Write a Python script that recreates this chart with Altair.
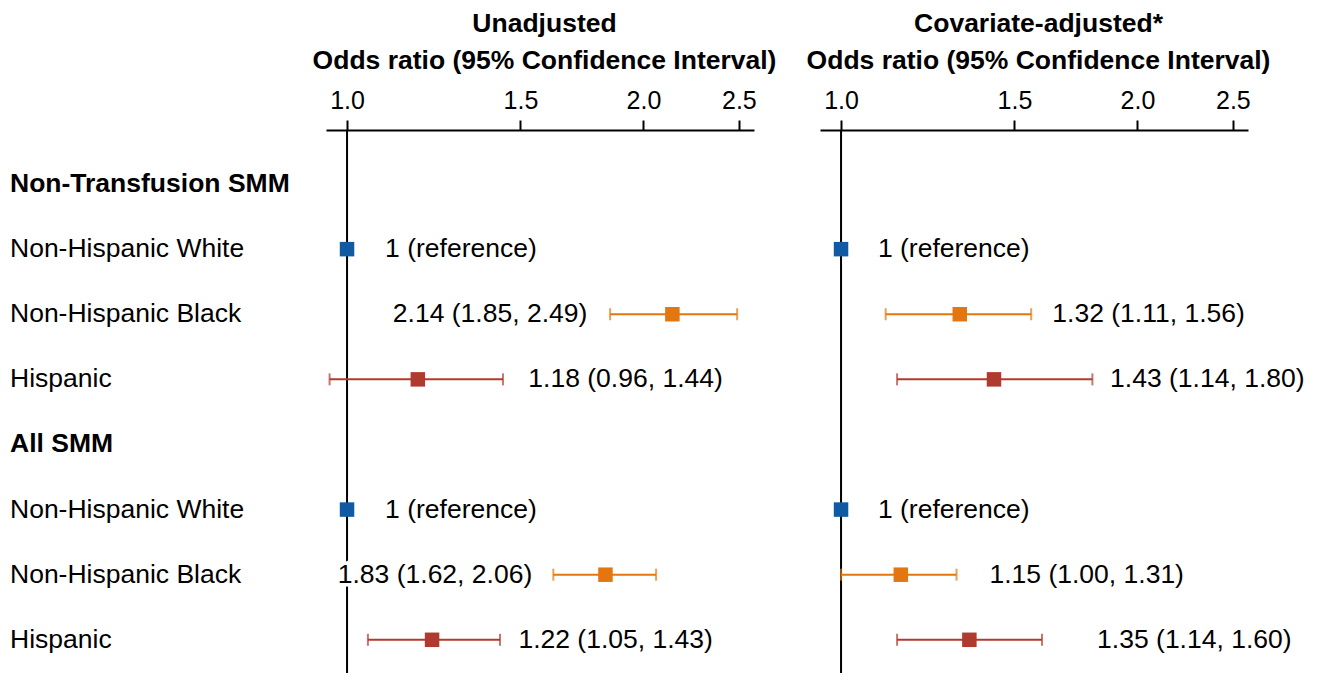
import altair as alt
import pandas as pd

# ---------------- data ----------------
row_labels = ["Non-Transfusion SMM", "Non-Hispanic White", "Non-Hispanic Black", "Hispanic",
              "All SMM", "Non-Hispanic White", "Non-Hispanic Black", "Hispanic"]
is_header = [True, False, False, False, True, False, False, False]
row_index = [1, 2, 3, 4, 5, 6, 7, 8]

est_rows = [2, 3, 4, 6, 7, 8]
est_race = ["Non-Hispanic White", "Non-Hispanic Black", "Hispanic",
            "Non-Hispanic White", "Non-Hispanic Black", "Hispanic"]

or_unadj = [1.0, 2.14, 1.18, 1.0, 1.83, 1.22]
lo_unadj = [None, 1.85, 0.96, None, 1.62, 1.05]
hi_unadj = [None, 2.49, 1.44, None, 2.06, 1.43]
# where each value label is anchored (odds-ratio units) and its alignment
lab_unadj = [1.093, 1.754, 1.528, 1.093, 1.542, 1.493]
align_unadj = ["left", "right", "left", "left", "right", "left"]

or_adj = [1.0, 1.32, 1.43, 1.0, 1.15, 1.35]
lo_adj = [None, 1.11, 1.14, None, 1.00, 1.14]
hi_adj = [None, 1.56, 1.80, None, 1.31, 1.60]
lab_adj = [1.09, 1.639, 1.876, 1.09, 1.415, 1.82]
align_adj = ["left", "left", "left", "left", "left", "left"]

tick_values = [1.0, 1.5, 2.0, 2.5]
race_names = ["Non-Hispanic White", "Non-Hispanic Black", "Hispanic"]
race_colors = ["#0f5aa3", "#e4760f", "#b03a2e"]

FONT = "Liberation Sans"
FS_ROW = 26.5
FS_VAL = 26.5
FS_TICK = 25
W = 428
H = 543
X_DOMAIN = [0.952, 2.59]
Y_DOMAIN = [0.17, 8.51]


def fmt_label(o, l, h):
    if l is None:
        return "1 (reference)"
    return f"{o:.2f} ({l:.2f}, {h:.2f})"


def panel_df(ors, los, his, labs, aligns):
    return pd.DataFrame({
        "row": est_rows,
        "race": est_race,
        "or": ors,
        "lo": los,
        "hi": his,
        "lab_x": labs,
        "align": aligns,
        "label": [fmt_label(o, l, h) for o, l, h in zip(ors, los, his)],
    })


labels_df = pd.DataFrame({"row": row_index, "text": row_labels, "header": is_header})


def xenc(field, title):
    return alt.X(
        field,
        scale=alt.Scale(type="log", domain=X_DOMAIN, nice=False),
        axis=alt.Axis(
            orient="top", values=tick_values, format=".1f", grid=False,
            labelFontSize=FS_TICK, labelColor="black", labelFont=FONT, labelPadding=7,
            tickSize=10, tickWidth=2, tickColor="black",
            domainWidth=2, domainColor="black",
            title=title, titleFontSize=FS_ROW, titleFontWeight="bold", titleFont=FONT,
            titleColor="black", titlePadding=14, titleLineHeight=37, titleX=W / 2 + 4,
        ),
    )


yenc = alt.Y("row:Q", scale=alt.Scale(domain=Y_DOMAIN, reverse=True), axis=None)
cenc = alt.Color("race:N", scale=alt.Scale(domain=race_names, range=race_colors), legend=None)


def panel(df, title, with_labels=False):
    base = alt.Chart(df)
    ref = alt.Chart(pd.DataFrame({"v": [1.0]})).mark_rule(color="black", strokeWidth=2).encode(
        x=xenc("v:Q", title), y=alt.value(0), y2=alt.value(H)
    )
    ci = base.transform_filter("isValid(datum.lo)").mark_rule(strokeWidth=2).encode(
        x=xenc("lo:Q", title), x2="hi:Q", y=yenc, color=cenc
    )
    caps = base.transform_filter("isValid(datum.lo)").transform_fold(
        ["lo", "hi"], as_=["end", "val"]
    ).mark_tick(orient="vertical", size=12, thickness=2).encode(
        x=xenc("val:Q", title), y=yenc, color=cenc
    )
    sq = base.mark_square(size=210, opacity=1).encode(
        x=xenc("or:Q", title), y=yenc, color=cenc
    )
    layers = [ref, ci, caps, sq]
    for al in ["left", "right"]:
        txt = base.transform_filter(f"datum.align == '{al}'")
        # white halo that breaks the reference line behind the text
        layers.append(
            txt.mark_text(align=al, baseline="middle", fontSize=FS_VAL, font=FONT,
                          color="white", stroke="white", strokeWidth=7)
            .encode(x=xenc("lab_x:Q", title), y=yenc, text="label:N")
        )
        layers.append(
            txt.mark_text(align=al, baseline="middle", fontSize=FS_VAL, font=FONT, color="black")
            .encode(x=xenc("lab_x:Q", title), y=yenc, text="label:N")
        )
    if with_labels:
        for hd, wt in [(True, "bold"), (False, "normal")]:
            layers.append(
                alt.Chart(labels_df).transform_filter(
                    "datum.header" if hd else "!datum.header"
                ).mark_text(align="left", baseline="middle", fontSize=FS_ROW, font=FONT,
                            fontWeight=wt, color="black")
                .encode(x=alt.value(-316), y=yenc, text="text:N")
            )
    return alt.layer(*layers).properties(width=W, height=H)


left = panel(panel_df(or_unadj, lo_unadj, hi_unadj, lab_unadj, align_unadj),
             ["Unadjusted", "Odds ratio (95% Confidence Interval)"], with_labels=True)
right = panel(panel_df(or_adj, lo_adj, hi_adj, lab_adj, align_adj),
              ["Covariate-adjusted*", "Odds ratio (95% Confidence Interval)"])

chart = alt.hconcat(left, right, spacing=66, bounds="flush").properties(
    padding={"left": 2, "top": 2, "right": 0, "bottom": 0}
).configure(font=FONT).configure_view(stroke="transparent", strokeWidth=0)

chart.save("out.html", embed_options={"renderer": "svg", "actions": False})
